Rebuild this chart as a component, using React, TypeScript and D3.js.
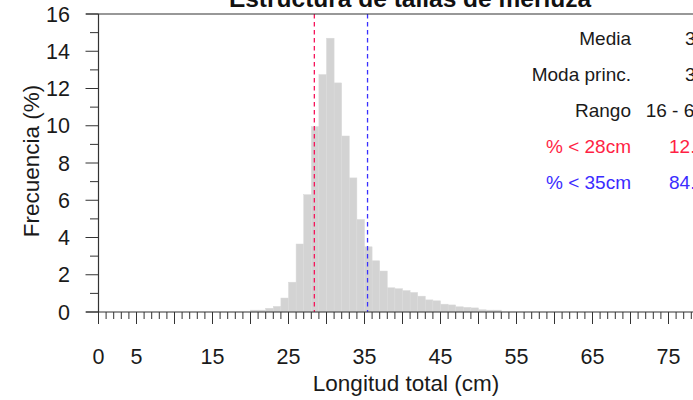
import React from "react";
import * as d3 from "d3";

// Length classes (cm, left edge of each 1-cm bin) and frequency (%)
const lengths = [20, 21, 22, 23, 24, 25, 26, 27, 28, 29, 30, 31, 32, 33, 34, 35, 36, 37, 38, 39, 40, 41, 42, 43, 44, 45, 46, 47, 48, 49, 50, 51, 52];
const freqs = [0.1, 0.1, 0.2, 0.3, 0.75, 1.6, 3.65, 6.3, 9.95, 12.75, 14.7, 12.3, 9.45, 7.2, 4.97, 3.5, 2.75, 2.2, 1.3, 1.25, 1.15, 1.05, 0.85, 0.65, 0.6, 0.42, 0.38, 0.28, 0.25, 0.22, 0.12, 0.1, 0.1];

const xTickLabels = [0, 5, 15, 25, 35, 45, 55, 65, 75];
const yTickLabels = [0, 2, 4, 6, 8, 10, 12, 14, 16];
const refLines = [28.4, 35.4];
const refColors = ["#f5145a", "#3a30ff"];

const statLabels = ["Media", "Moda princ.", "Rango", "% < 28cm", "% < 35cm"];
const statValues = ["31.6", "30", "16 - 64", "12.8", "84.3"];
const statColors = ["#1a1a1a", "#1a1a1a", "#1a1a1a", "#ff1f45", "#3b2cff"];

const title = "Estructura de tallas de merluza";

export default function App() {
  const W = 693, H = 400;
  const x = d3.scaleLinear().domain([0, 80]).range([98.5, 98.5 + 608]);
  const y = d3.scaleLinear().domain([0, 16]).range([312, 14]);
  const axisCol = "#333";
  const font = "Liberation Sans, Arial, sans-serif";
  const xTicks = d3.range(0, 81, 1);
  const yTicks = d3.range(0, 17, 1);
  const valX = [685, 685, 645.7, 669, 669];

  return (
    <svg width={W} height={H} style={{ position: "absolute", left: 0, top: 0, background: "#fff" }} fontFamily={font}>
      <text x={410} y={7} textAnchor="middle" fontSize={24.5} fontWeight="bold" fill="#111">{title}</text>

      {/* bars */}
      {lengths.map((l, i) => (
        <rect key={l} x={x(l)} width={x(l + 1) - x(l)} y={y(freqs[i])} height={y(0) - y(freqs[i])}
          fill="#d3d3d3" stroke="#d9d9d9" strokeWidth={0.5} />
      ))}

      {/* reference lines */}
      {refLines.map((v, i) => (
        <line key={v} x1={x(v)} x2={x(v)} y1={y(16)} y2={y(0)} stroke={refColors[i]} strokeWidth={1.3} strokeDasharray="4.5,3.5" />
      ))}

      {/* horizontal frame lines at 0 and 16 */}
      <line x1={86} x2={W} y1={y(0)} y2={y(0)} stroke={axisCol} strokeWidth={1.2} />
      <line x1={86} x2={W} y1={y(16)} y2={y(16)} stroke={axisCol} strokeWidth={1.2} />
      {/* y axis */}
      <line x1={x(0)} x2={x(0)} y1={y(16)} y2={y(0)} stroke={axisCol} strokeWidth={1.2} />
      {yTicks.map(t => (
        <line key={t} x1={x(0)} x2={x(0) - (t % 2 === 0 ? 13 : 8.5)} y1={y(t)} y2={y(t)} stroke={axisCol} strokeWidth={1} />
      ))}
      {yTickLabels.map(t => (
        <text key={t} x={70} y={y(t) + 7.6} textAnchor="end" fontSize={21.5} fill="#1a1a1a">{t}</text>
      ))}
      {/* x axis ticks */}
      {xTicks.map(t => (
        <line key={t} x1={x(t)} x2={x(t)} y1={y(0)} y2={y(0) + (t % 5 === 0 ? 12 : 7)} stroke={axisCol} strokeWidth={1} />
      ))}
      {xTickLabels.map(t => (
        <text key={t} x={x(t)} y={364} textAnchor="middle" fontSize={21.5} fill="#1a1a1a">{t}</text>
      ))}

      <text x={406} y={391} textAnchor="middle" fontSize={22.5} fill="#1a1a1a">Longitud total (cm)</text>
      <text transform={`translate(39,161) rotate(-90)`} textAnchor="middle" fontSize={22.5} fill="#1a1a1a">Frecuencia (%)</text>

      {/* stats panel */}
      {statLabels.map((s, i) => (
        <g key={s}>
          <text x={631} y={45 + i * 36} textAnchor="end" fontSize={19} fill={statColors[i]}>{s}</text>
          <text x={valX[i]} y={45 + i * 36} textAnchor="start" fontSize={19} fill={statColors[i]}>{statValues[i]}</text>
        </g>
      ))}
    </svg>
  );
}
